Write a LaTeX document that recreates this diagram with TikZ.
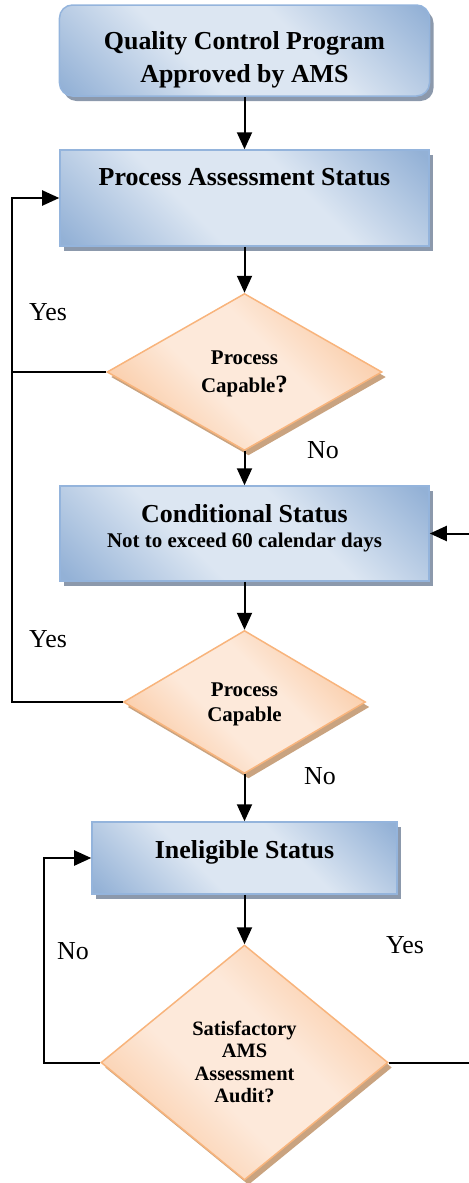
\documentclass[tikz,border=0pt]{standalone}
\usepackage{fontspec}
\setmainfont{Liberation Serif}
\usetikzlibrary{shapes.geometric,shadows,arrows.meta}
\definecolor{bdark}{HTML}{93B1D6}
\definecolor{blight}{HTML}{DCE6F2}
\definecolor{bline}{HTML}{94B4DC}
\definecolor{bshadow}{HTML}{8C99AC}
\definecolor{odark}{HTML}{F9BF91}
\definecolor{olight}{HTML}{FDE9DA}
\definecolor{oline}{HTML}{F8B47C}
\definecolor{oshadow}{HTML}{C9A380}
\pgfdeclarehorizontalshading{bluediag}{100bp}{color(0bp)=(bdark); color(16bp)=(bdark); color(40bp)=(blight); color(60bp)=(blight); color(84bp)=(bdark); color(100bp)=(bdark)}
\pgfdeclarehorizontalshading{orangediag}{100bp}{color(0bp)=(odark); color(18bp)=(odark); color(42bp)=(olight); color(58bp)=(olight); color(82bp)=(odark); color(100bp)=(odark)}
\tikzset{
  box/.style={draw=bline, line width=1.5bp, shading=bluediag, shading angle=45,
    drop shadow={shadow xshift=4bp, shadow yshift=-5bp, fill=bshadow, opacity=1},
    inner sep=0pt},
  dia/.style={diamond, draw=oline, line width=1.5bp, shading=orangediag, shading angle=45,
    drop shadow={shadow xshift=4bp, shadow yshift=-5bp, fill=oshadow, opacity=1},
    inner sep=0pt},
  txt/.style={align=center, inner sep=0pt, text=black},
  bigtxt/.style={txt, font=\bfseries\fontsize{26}{33}\selectfont},
  diatxt/.style={txt, font=\bfseries\fontsize{20.5}{25}\selectfont},
  lbl/.style={inner sep=0pt, anchor=base, font=\fontsize{26}{30}\selectfont},
  conn/.style={line width=2bp, -{Triangle[length=17bp,width=15bp]}},
  plain/.style={line width=2bp}
}
\begin{document}
\begin{tikzpicture}[x=1bp,y=-1bp]
\useasboundingbox (0,0) rectangle (469,1183);
% boxes
\node[box, rounded corners=13bp, minimum width=370bp, minimum height=91bp] (b1) at (244.5,50.5) {};
\node[bigtxt] (t1) at (244.5,60) {Quality Control Program\\Approved by AMS};
\node[box, minimum width=369bp, minimum height=96bp] (b2) at (244.5,198) {};
\node[bigtxt, anchor=base] (t2) at (244.5,185) {Process Assessment Status};
\node[dia, minimum width=275bp, minimum height=157bp] (d1) at (244.5,372) {};
\node[diatxt, font=\bfseries\fontsize{21}{28}\selectfont] (t3) at (244.5,374) {Process\\Capable{\fontsize{25}{28}\selectfont ?}};
\node[box, minimum width=369bp, minimum height=95bp] (b3) at (244.5,533.5) {};
\node[txt, font=\bfseries\fontsize{26}{25}\selectfont] (t4) at (244.5,528) {Conditional Status\\{\fontsize{21}{25}\selectfont Not to exceed 60 calendar days}};
\node[dia, minimum width=242bp, minimum height=143bp] (d2) at (244.5,702) {};
\node[diatxt, font=\bfseries\fontsize{21}{25}\selectfont] (t5) at (244.5,704.5) {Process\\Capable};
\node[box, minimum width=305bp, minimum height=72bp] (b4) at (244.5,858) {};
\node[bigtxt, anchor=base] (t6) at (244.5,858) {Ineligible Status};
\node[dia, minimum width=287bp, minimum height=235bp] (d3) at (244.5,1062.5) {};
\node[diatxt, font=\bfseries\fontsize{20.5}{22.7}\selectfont] (t7) at (244.5,1062) {Satisfactory\\AMS\\Assessment\\Audit?};
% labels
\node[lbl] (y1) at (48,320) {Yes};
\node[lbl] (n1) at (323,458) {No};
\node[lbl] (y2) at (48,647) {Yes};
\node[lbl] (n2) at (320,784) {No};
\node[lbl] (n3) at (73,959) {No};
\node[lbl] (y3) at (405,953) {Yes};
% guide coordinates
\coordinate (lx) at (12,0);
\coordinate (lx2) at (44,0);
\coordinate (r1) at (473,1062.5);
% connectors
\draw[conn] (b1.south) -- (b2.north);
\draw[conn] (b2.south) -- (d1.north);
\draw[conn] (d1.south) -- (b3.north);
\draw[conn] (b3.south) -- (d2.north);
\draw[conn] (d2.south) -- (b4.north);
\draw[conn] (b4.south) -- (d3.north);
\draw[conn] (d1.west) -- (d1.west -| lx) |- (b2.west);
\draw[plain] (d2.west) -- (d2.west -| lx) -- (d1.west -| lx);
\draw[conn] (d3.west) -- (d3.west -| lx2) |- (b4.west);
\begin{scope}
\clip (0,0) rectangle (469,1183);
\draw[conn] (d3.east) -- (r1) |- (b3.east);
\end{scope}
\end{tikzpicture}
\end{document}
